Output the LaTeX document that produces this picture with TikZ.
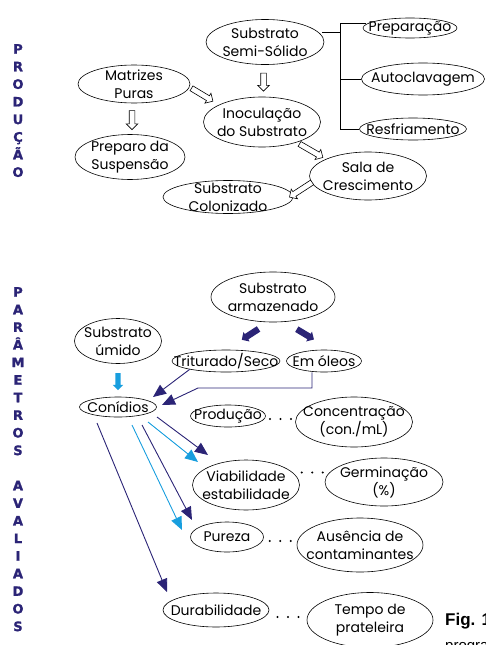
\documentclass[tikz,border=0pt]{standalone}
\usepackage{fontspec}
\setmainfont{Poppins}
\newfontfamily\lsans{Liberation Sans}
\newfontfamily\heavy[BoldFeatures={FakeBold=1.5}]{DejaVu Sans}
\usetikzlibrary{shapes.geometric,shapes.arrows,arrows.meta,calc}
\definecolor{navy}{RGB}{43,36,118}
\definecolor{sky}{RGB}{24,158,222}
\begin{document}
\begin{tikzpicture}[x=1pt,y=-1pt,
  ell/.style={ellipse, draw, line width=0.6pt, inner sep=0pt},
  every label/.style={align=center, font=\fontsize{14}{18}\selectfont, inner sep=0pt},
  harr/.style={single arrow, draw, line width=0.6pt, fill=white, inner xsep=0pt, inner ysep=2.5pt,
    single arrow head extend=3pt},
  farr/.style={single arrow, fill=navy, minimum height=20pt, inner xsep=0pt, inner ysep=3pt,
    single arrow head extend=2.5pt},
  side/.style={align=center, font=\heavy\bfseries\fontsize{13}{17.6}\selectfont, text=navy, inner sep=0pt, anchor=north},
  darr/.style={draw=navy, line width=0.9pt, -{Triangle[length=13pt,width=11pt]}},
  barr/.style={draw=sky, line width=0.9pt, -{Triangle[length=13pt,width=11pt]}},
  dot/.style={fill=black}]
\useasboundingbox (0,0) rectangle (486,645);
\clip (0,0) rectangle (486,645);

% ---------- side titles ----------
\node[side] (tprod) at (18,44) {P\\R\\O\\D\\U\\Ç\\Ã\\O};
\node[side] (tpar) at (18,287) {P\\A\\R\\Â\\M\\E\\T\\R\\O\\S\\[17.6pt]A\\V\\A\\L\\I\\A\\D\\O\\S};

% ---------- PRODUCAO ----------
\node[ell, minimum width=118pt, minimum height=45pt, label=center:{Substrato\\Semi-Sólido}] (sss) at (265,42) {};
\node[ell, minimum width=94pt, minimum height=20pt, label=center:{Preparação}] (prep) at (410,28) {};
\node[ell, minimum width=123pt, minimum height=32pt, label=center:{Autoclavagem}] (auto) at (423,79) {};
\node[ell, minimum width=107pt, minimum height=22pt, label=center:{Resfriamento}] (resf) at (413,129) {};
\node[ell, minimum width=112pt, minimum height=38pt, label=center:{Matrizes\\Puras}] (mat) at (134,84) {};
\node[ell, minimum width=110pt, minimum height=45pt, label=center:{Preparo da\\Suspensão}] (psus) at (130,157) {};
\node[ell, minimum width=117pt, minimum height=50pt, label=center:{Inoculação\\do Substrato}] (inoc) at (262,122) {};
\node[ell, minimum width=117pt, minimum height=48pt, label=center:{Sala de\\Crescimento}] (sala) at (368,176) {};
\node[ell, minimum width=130pt, minimum height=33pt, label=center:{Substrato\\Colonizado}] (scol) at (228,197) {};

% bracket
\coordinate (bt) at (340,23);
\coordinate (bb) at (340,129);
\draw[line width=0.6pt] ([xshift=3pt]sss.10) -- (sss.10 -| bt);
\draw[line width=0.6pt] (prep.west |- bt) ++(3pt,0) -- (bt) -- (bb) -- (resf.west);
\draw[line width=0.6pt] (auto.west -| bt) -- (auto.west);

% hollow arrows
\node[harr, minimum height=19pt, rotate=-90] (h1) at ($(mat.south)!0.5!(psus.north)$) {};
\node[harr, minimum height=25pt, rotate=-31] (h2) at (201,94) {};
\node[harr, minimum height=18pt, rotate=-90] (h3) at ($(sss.south)!0.5!(inoc.north)$) {};
\node[harr, minimum height=27pt, rotate=-30] (h4) at (310,150) {};
\node[harr, minimum height=27pt, rotate=-147] (h5) at (302,189) {};

% ---------- PARAMETROS ----------
\node[ell, minimum width=124pt, minimum height=50pt, label=center:{Substrato\\armazenado}] (sarm) at (273,297) {};
\node[ell, minimum width=87pt, minimum height=45pt, label=center:{Substrato\\úmido}] (sum) at (118,341) {};
\node[ell, minimum width=108pt, minimum height=22pt, label=center:{Triturado/Seco}] (trit) at (226,361) {};
\node[ell, minimum width=75pt, minimum height=22pt, label=center:{Em óleos}] (oleo) at (324,361) {};
\node[ell, minimum width=77pt, minimum height=20pt, label=center:{Conídios}] (con) at (118,407) {};
\node[ell, minimum width=75pt, minimum height=22pt, label=center:{Produção}] (prod) at (228,416) {};
\node[ell, minimum width=117pt, minimum height=50pt, label=center:{Concentração\\(con./mL)}] (conc) at (354,422) {};
\node[ell, minimum width=107pt, minimum height=50pt, label=center:{Viabilidade\\estabilidade}] (viab) at (246,485) {};
\node[ell, minimum width=118pt, minimum height=48pt, label=center:{Germinação\\(\%)}] (germ) at (384,482) {};
\node[ell, minimum width=73pt, minimum height=30pt, label=center:{Pureza}] (pur) at (227,537) {};
\node[ell, minimum width=126pt, minimum height=54pt, label=center:{Ausência de\\contaminantes}] (aus) at (360,545) {};
\node[ell, minimum width=106pt, minimum height=34pt, label=center:{Durabilidade}] (dur) at (216,610) {};
\node[ell, minimum width=126pt, minimum height=55pt, label=center:{Tempo de\\prateleira}] (temp) at (370,620) {};

% filled arrows
\node[farr, rotate=-147] (f1) at (251.5,333.5) {};
\node[farr, rotate=-31] (f2) at (304,333.5) {};
\node[single arrow, fill=sky, minimum height=17pt, inner xsep=0pt, inner ysep=2.5pt,
  single arrow head extend=2.5pt, rotate=-90] (f3) at ($(sum.south)!0.5!(con.north)$) {};

% connectors into Conidios
\coordinate (tc1) at (153,397);
\draw[darr] (trit.193) -- (tc1);
\coordinate (e1) at (312,388);
\coordinate (e2) at (198,388);
\coordinate (tc2) at (162,405);
\draw[darr] (oleo.south -| e1) -- (e1) -- (e2) -- (tc2);

% connectors out of Conidios
\coordinate (s1) at (157,417); \coordinate (t1) at (208,455);
\coordinate (s2) at (148,422); \coordinate (t2) at (198,462);
\coordinate (s3) at (142,425); \coordinate (t3) at (192,520);
\coordinate (s4) at (132,425); \coordinate (t4) at (182,530);
\coordinate (s5) at (97,423);  \coordinate (t5) at (167,592);
\draw[darr] (s1) -- (t1);
\draw[barr] (s2) -- (t2);
\draw[darr] (s3) -- (t3);
\draw[barr] (s4) -- (t4);
\draw[darr] (s5) -- (t5);

% dotted links
\coordinate (m1) at ($(prod.east)!0.5!(conc.west)$);
\coordinate (m2) at ($(viab.east)!0.5!(germ.west)+(0,-11)$);
\coordinate (m3) at ($(pur.east)!0.5!(aus.west)$);
\coordinate (m4) at ($(dur.east)!0.5!(temp.west)+(0,2)$);
\foreach \m in {m1,m2,m3,m4}{
  \fill[dot] (\m) circle (1.2pt) ([xshift=-10.5pt]\m) circle (1.2pt) ([xshift=10.5pt]\m) circle (1.2pt);
}

% caption fragment
\node[anchor=base west, inner sep=0pt, font=\lsans\bfseries\fontsize{17}{18}\selectfont] (fig) at (445,625) {Fig. 1};
\node[anchor=base west, inner sep=0pt, font=\lsans\fontsize{15}{18}\selectfont] (figb) at (445,650) {programa};
\end{tikzpicture}
\end{document}
